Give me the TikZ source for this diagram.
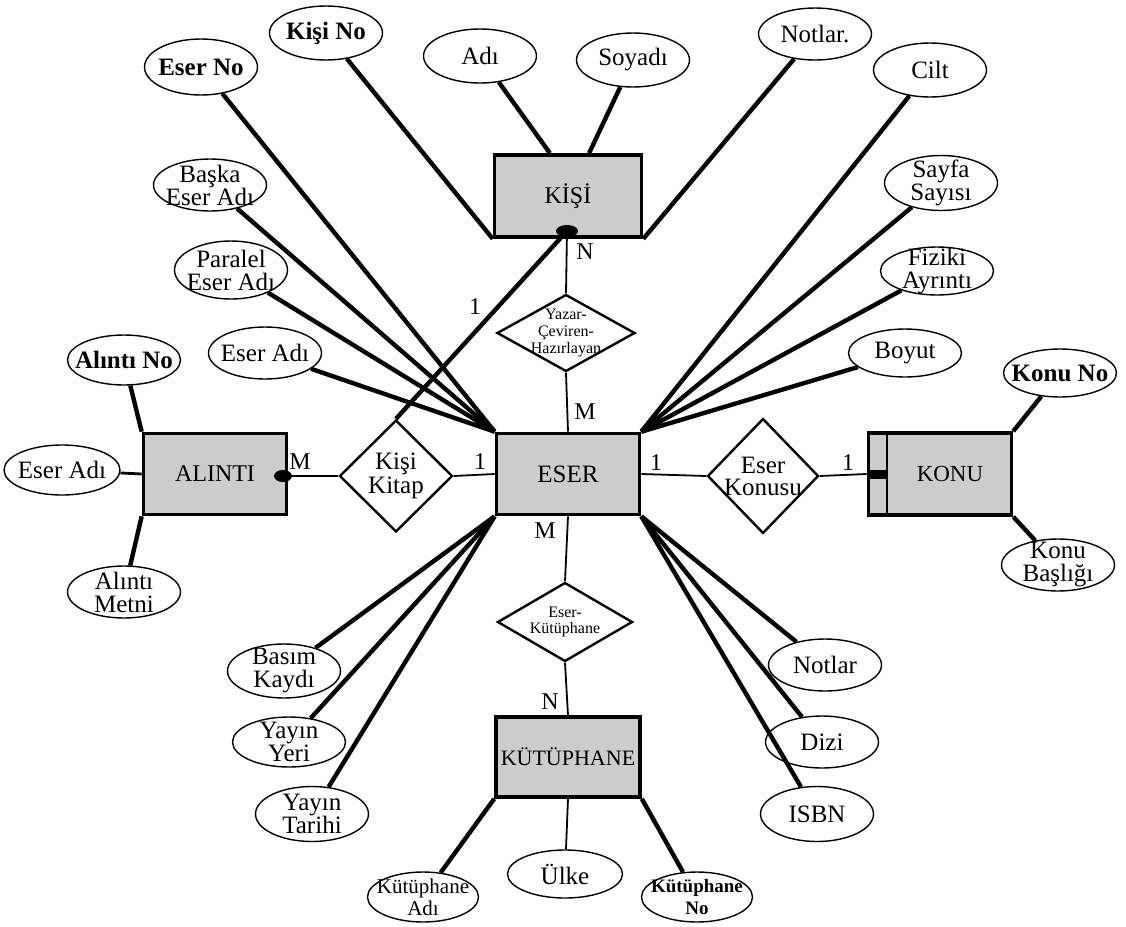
\documentclass[tikz,border=0pt]{standalone}
\usepackage{fontspec}
\setmainfont{Liberation Serif}
\usetikzlibrary{shapes.geometric,calc}
\begin{document}
\begin{tikzpicture}[x=0.5pt,y=-0.5pt,
  lbl/.style={align=center,inner sep=0pt,font=\fontsize{12.5}{11.5}\selectfont},
  attrshape/.style={ellipse,draw,line width=0.7pt,inner sep=0pt,minimum width=56.5pt,minimum height=26pt},
  attr/.style={attrshape,label={[lbl]center:#1}},
  ent/.style={draw,line width=1.8pt,fill=black!20,inner sep=0pt,minimum width=71.5pt,minimum height=40.5pt,font=\fontsize{12}{13}\selectfont},
  rel/.style={diamond,draw,line width=1.2pt,inner sep=0pt,fill=white},
  card/.style={inner sep=0pt,font=\fontsize{12}{13}\selectfont},
  heavy/.style={line width=2.2pt},
  medium/.style={line width=1.4pt},
  light/.style={line width=0.9pt}
]
\path[use as bounding box] (0,0) rectangle (1126,927);

% entities
\node[ent,minimum width=73.5pt,minimum height=41pt] (kisi) at (568,196) {KİŞİ};
\node[ent] (eser) at (568,474) {\fontsize{12.5}{13}\selectfont ESER};
\node[ent] (alinti) at (215,474) {ALINTI};
\node[ent,minimum height=41pt] (konu) at (940,474) {\hspace*{10pt}\fontsize{11.5}{13}\selectfont KONU};
\node[ent,minimum width=72pt,minimum height=40pt] (kut) at (568,757) {\fontsize{11}{13}\selectfont KÜTÜPHANE};

% attributes
\node[attr={\textbf{Eser No}},minimum height=28pt] (eserno) at (201,67) {};
\node[attr={\textbf{Kişi No}},minimum height=27pt] (kisino) at (326,33) {};
\node[attr={Adı},minimum height=27pt] (adi) at (480,56) {};
\node[attr={Soyadı},minimum height=27pt] (soyadi) at (633,60) {};
\node[attr={Notlar.}] (notlark) at (815,34) {};
\node[attr={Cilt},minimum height=27pt] (cilt) at (930,70) {};
\node[attr={Başka\\Eser Adı}] (baska) at (210,185) {};
\node[attr={Paralel\\Eser Adı},minimum height=29pt] (paralel) at (231,270) {};
\node[attr={Eser Adı}] (eseradiu) at (265,353) {};
\node[attr={Sayfa\\Sayısı},minimum height=27.5pt] (sayfa) at (941,183) {};
\node[attr={Fiziki\\Ayrıntı},minimum height=24pt] (fiziki) at (937,271) {};
\node[attr={Boyut},minimum height=24pt] (boyut) at (905,353) {};
\node[attr={\textbf{Alıntı No}},minimum height=25pt] (alintino) at (124,360) {};
\node[attr={\textbf{Konu No}},minimum height=24pt] (konuno) at (1060,373) {};
\node[attr={Eser Adı},minimum width=58pt,minimum height=25pt] (eseradil) at (62,470) {};
\node[attr={Alıntı\\Metni}] (metni) at (124,592) {};
\node[attr={Konu\\Başlığı}] (baslik) at (1058,565) {};
\node[attr={Basım\\Kaydı},minimum height=27pt] (basim) at (284,671) {};
\node[attr={Yayın\\Yeri},minimum height=25pt] (yyeri) at (289,742) {};
\node[attr={Yayın\\Tarihi},minimum height=27.5pt] (ytarih) at (312,814) {};
\node[attrshape,minimum width=55.5pt,minimum height=25pt,label={[lbl,font=\fontsize{10.5}{11}\selectfont]center:Kütüphane\\Adı}] (kutadi) at (423,897) {};
\node[attr={Ülke},minimum width=57.5pt,minimum height=24pt] (ulke) at (565,874) {};
\node[attrshape,minimum width=55.5pt,minimum height=25pt,label={[lbl,font=\fontsize{9.5}{11}\selectfont\bfseries]center:Kütüphane\\No}] (kutno) at (697,897) {};
\node[attr={Notlar}] (notlare) at (825,665) {};
\node[attr={Dizi}] (dizi) at (822,742) {};
\node[attr={ISBN},minimum height=27.5pt] (isbn) at (817,814) {};

% relationships
\node[rel,minimum width=69pt,minimum height=38.5pt,label={[lbl,font=\fontsize{8}{8.3}\selectfont]center:Yazar-\\Çeviren-\\Hazırlayan}] (yazar) at (566,333) {};
\node[rel,minimum width=56.5pt,minimum height=56pt,label={[lbl,font=\fontsize{12.5}{10.5}\selectfont]center:Kişi\\Kitap}] (kk) at (396,476) {};
\node[rel,minimum width=55.5pt,minimum height=57.5pt,label={[lbl,font=\fontsize{12.5}{11}\selectfont]center:Eser\\Konusu}] (konusu) at (763,476) {};
\node[rel,minimum width=67.5pt,minimum height=39.5pt,label={[lbl,font=\fontsize{8}{7.8}\selectfont]center:Eser-\\Kütüphane}] (ek) at (565,622) {};

% coordinates on entity borders
\coordinate (adiend) at ($(kisi.north west)!0.38!(kisi.north east)$);
\coordinate (soyend) at ($(kisi.north west)!0.64!(kisi.north east)$);

% attribute connectors
\draw[heavy] (eserno) -- (eser.north west);
\draw[heavy] (baska) -- (eser.north west);
\draw[heavy] (paralel) -- (eser.north west);
\draw[heavy] (eseradiu) -- (eser.north west);
\draw[heavy] (cilt) -- (eser.north east);
\draw[heavy] (sayfa) -- (eser.north east);
\draw[heavy] (fiziki) -- (eser.north east);
\draw[heavy] (boyut) -- (eser.north east);
\draw[heavy] (basim) -- (eser.south west);
\draw[heavy] (yyeri) -- (eser.south west);
\draw[heavy] (ytarih) -- (eser.south west);
\draw[heavy] (notlare) -- (eser.south east);
\draw[heavy] (dizi) -- (eser.south east);
\draw[heavy] (isbn) -- (eser.south east);
\draw[heavy] (kisino) -- (kisi.south west);
\draw[heavy] (notlark) -- (kisi.south east);
\draw[heavy] (adi) -- (adiend);
\draw[heavy] (soyadi) -- (soyend);
\draw[heavy] (alintino) -- (alinti.north west);
\draw[heavy] (metni) -- (alinti.south west);
\draw[medium] (eseradil) -- (alinti.west);
\draw[heavy] (konuno) -- (konu.north east);
\draw[heavy] (baslik) -- (konu.south east);
\draw[heavy] (kutadi) -- (kut.south west);
\draw[heavy] (kutno) -- (kut.south east);
\draw[light] (ulke) -- (kut.south);

% relationship connectors
\node[fill,ellipse,inner sep=0pt,minimum width=11pt,minimum height=6pt] (kdot) at (567,231) {};
\node[fill,ellipse,inner sep=0pt,minimum width=9pt,minimum height=6pt] (adot) at (283,476) {};
\draw[heavy] (kdot.center) -- (kk.north);
\draw[medium] (adot.center) -- (kk.west);
\draw[light] (kdot.center) -- (yazar.north);
\draw[light] (yazar.south) -- (eser.north);
\draw[light] (kk.east) -- (eser.west);
\draw[light] (eser.east) -- (konusu.west);
\draw[light] (konusu.east) -- (konu.west);
\draw[light] (eser.south) -- (ek.north);
\draw[light] (ek.south) -- (kut.north);

% KONU double border and block
\draw[line width=1.2pt] ($(konu.north west)+(20,0)$) coordinate (kin) -- ($(konu.south west)+(20,0)$);
\fill ($(konu.west)+(0,-4)$) rectangle ($(konu.west)+(20,5)$);

% cardinalities
\node[card] (c1) at (585,252) {N};
\node[card] (c2) at (475,307) {1};
\node[card] (c3) at (585,412) {M};
\node[card] (c4) at (300,462) {M};
\node[card] (c5) at (480,462) {1};
\node[card] (c6) at (656,463) {1};
\node[card] (c7) at (848,463) {1};
\node[card] (c8) at (545,531) {M};
\node[card] (c9) at (550,702) {N};
\end{tikzpicture}
\end{document}
